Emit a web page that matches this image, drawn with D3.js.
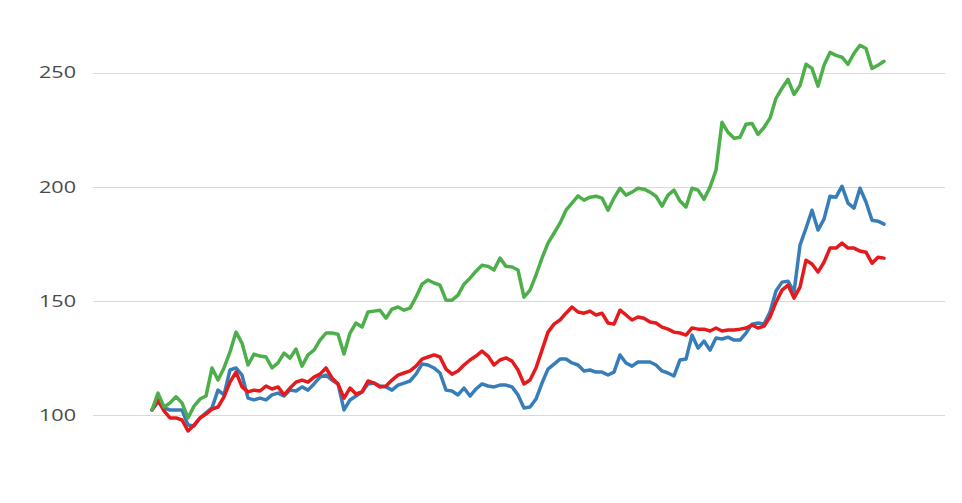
<!DOCTYPE html>
<html>
<head>
<meta charset="utf-8">
<script src="https://cdn.jsdelivr.net/npm/d3@7"></script>
<style>
html,body{margin:0;padding:0;background:#fff;}
svg{display:block;}
</style>
</head>
<body>
<svg id="chart" width="962" height="503"></svg>
<script>
const yTicks = [100, 150, 200, 250];

const greenValues = [102.2,109.6,103.5,105.3,108.0,105.3,98.7,103.9,107.0,108.3,120.6,115.3,120.6,127.6,136.3,131.5,121.9,126.7,125.8,125.4,
120.6,122.8,127.1,124.9,128.9,121.4,126.3,128.4,132.8,135.9,135.9,135.4,126.7,135.9,140.3,138.5,145.1,145.5,145.9,142.4,
146.4,147.3,145.9,146.8,151.6,157.3,159.1,157.8,156.9,150.3,150.3,152.5,157.3,159.9,163.0,165.6,165.1,163.5,168.7,165.1,
164.8,163.5,151.6,154.7,161.3,168.7,175.3,179.6,184.0,189.7,192.8,196.0,194.1,195.4,195.8,195.0,189.7,195.0,199.3,196.3,
197.6,199.3,198.9,197.6,195.8,191.5,196.3,198.5,193.7,191.1,199.3,198.5,194.5,199.8,207.2,228.2,223.8,221.2,221.6,227.3,
227.7,222.9,225.9,230.0,238.7,243.1,247.0,240.4,244.3,253.6,251.8,244.0,253.2,258.8,257.5,256.7,253.6,258.4,261.9,260.5,
251.8,253.2,254.9];

const blueValues = [102.2,105.7,103.1,102.2,102.2,102.2,95.6,95.2,98.7,100.9,103.1,110.9,108.8,119.7,120.6,117.5,107.4,106.6,107.4,106.6,
108.8,109.6,108.3,110.9,110.5,112.3,110.9,113.6,116.6,117.5,115.3,113.6,102.2,106.6,108.3,110.1,113.6,114.0,112.7,112.3,
110.9,113.1,114.0,114.9,117.9,122.3,121.9,120.6,118.4,110.9,110.5,108.8,111.8,108.3,111.4,113.6,112.7,112.3,113.1,113.1,
112.3,108.8,103.1,103.5,107.0,114.0,120.1,122.3,124.5,124.5,122.8,121.9,119.3,119.7,118.8,118.8,117.5,118.8,126.3,122.8,
121.4,123.2,123.2,123.2,121.9,119.3,118.4,117.1,124.1,124.5,135.0,129.3,132.4,128.4,133.7,133.3,134.1,132.8,132.8,135.9,
139.8,140.3,139.8,145.1,154.3,158.2,158.6,153.8,174.4,181.8,189.7,181.0,185.8,195.8,195.4,200.2,192.8,190.6,199.3,193.3,
185.3,184.9,183.6];

const redValues = [102.2,106.6,101.8,98.7,98.7,97.8,93.0,95.6,98.7,100.4,102.6,103.5,107.9,114.4,118.8,112.3,110.1,110.9,110.5,112.7,
111.4,112.3,108.8,111.8,114.4,115.3,114.4,116.6,117.9,120.6,116.2,113.6,107.4,111.8,109.2,110.1,114.9,114.0,112.3,112.7,
115.3,117.5,118.4,119.3,121.4,124.5,125.4,126.3,125.4,120.1,117.9,119.3,121.9,124.1,125.8,128.0,125.8,121.9,124.1,125.0,
123.6,119.7,113.6,115.3,120.6,128.4,136.3,139.8,141.6,144.6,147.3,145.1,144.6,145.5,143.8,144.6,140.3,139.8,145.9,143.8,
141.6,142.9,142.4,140.7,140.3,138.5,137.6,136.3,135.9,135.0,138.1,137.6,137.6,136.8,138.1,136.8,137.2,137.2,137.6,138.1,
139.4,138.1,138.9,142.9,149.4,154.7,156.9,151.2,156.0,167.8,166.1,162.6,166.9,173.1,173.1,175.3,173.1,173.1,171.8,171.3,
166.5,169.1,168.7];

const seriesList = [
  {name: "blue", values: blueValues, color: "#377eb8"},
  {name: "red", values: redValues, color: "#e41a1c"},
  {name: "green", values: greenValues, color: "#4daf4a"}
];

const svg = d3.select("#chart");
const n = greenValues.length;
const x = d3.scaleLinear().domain([0, n - 1]).range([152, 884]);
const y = d3.scaleLinear().domain([100, 250]).range([415, 72.5]);

// gridlines
svg.append("g").selectAll("line").data(yTicks).join("line")
  .attr("x1", 93).attr("x2", 945)
  .attr("y1", d => Math.round(y(d)) + 0.5).attr("y2", d => Math.round(y(d)) + 0.5)
  .attr("stroke", "#d9d9d9").attr("stroke-width", 1);

// y axis labels
const yAxis = d3.axisLeft(y).tickValues(yTicks).tickSize(0).tickPadding(0);
const ga = svg.append("g").attr("transform", "translate(76,0)").call(yAxis);
ga.select(".domain").remove();
ga.selectAll(".tick text")
  .attr("x", 0)
  .attr("dy", "0.34em")
  .attr("font-family", "'Open Sans', sans-serif")
  .attr("font-size", 16)
  .attr("fill", "#4a4a4a")
  .attr("transform", "scale(1.35,1)");

const line = d3.line().x((d, i) => x(i)).y(d => y(d)).curve(d3.curveLinear);

svg.append("g").selectAll("path").data(seriesList).join("path")
  .attr("d", s => line(s.values))
  .attr("fill", "none")
  .attr("stroke", s => s.color)
  .attr("stroke-width", 3.5)
  .attr("stroke-linejoin", "round")
  .attr("stroke-linecap", "round");
</script>
</body>
</html>
